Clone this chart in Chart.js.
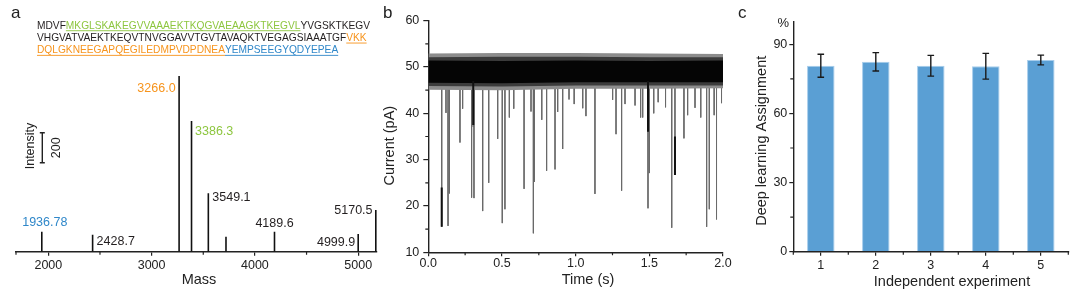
<!DOCTYPE html>
<html><head><meta charset="utf-8">
<script src="https://cdn.jsdelivr.net/npm/chart.js@4.4.1/dist/chart.umd.min.js"></script>
<style>
html,body{margin:0;padding:0;background:#fff;}
body{width:1080px;height:294px;position:relative;overflow:hidden;}
canvas{position:absolute;top:0;}
#ca{left:0;} #cb{left:370px;} #cc{left:730px;}
</style></head><body>
<canvas id="ca" width="385" height="294"></canvas>
<canvas id="cb" width="380" height="294"></canvas>
<canvas id="cc" width="350" height="294"></canvas>
<script>
// ---------- Panel a data ----------
const seqLine1 = [["MDVF","k",0],["MKGLSKAKEGVVAAAEKTKQGVAEAAGKTKEGVL","g",1],["YVGSKTKEGV","k",0]];
const seqLine2 = [["VHGVATVAEKTKEQVTNVGGAVVTGVTAVAQKTVEGAGSIAAATGF","k",0],["VKK","o",1]];
const seqLine3 = [["DQLGKNEEGAPQEGILEDMPVDPDNEA","o",1],["YEMPSEEGYQDYEPEA","b",1]];
const peakMass = [1936.78, 2428.7, 3266.0, 3386.3, 3549.1, 3720, 4189.6, 4999.9, 5170.5];
const peakIntensity = [133, 113, 1171, 871, 389, 100, 133, 118, 278];
const peakLabels = ["1936.78","2428.7","3266.0","3386.3","3549.1","","4189.6","4999.9","5170.5"];
const massTicks = [2000, 3000, 4000, 5000];
const intensityBar = 200;
// ---------- Panel b data ----------
const bandTime = [0, 0.5, 1.0, 1.5, 2.0];
const outerHigh = [52.9, 53.0, 53.0, 52.9, 52.8];
const innerHigh = [52.1, 52.2, 52.2, 52.1, 52.1];
const coreHigh  = [51.4, 51.3, 51.4, 51.3, 51.4];
const coreLow   = [46.6, 46.5, 46.7, 46.7, 46.7];
const innerLow  = [45.9, 45.8, 46.0, 46.0, 46.0];
const outerLow  = [45.1, 45.0, 45.3, 45.3, 45.4];
const spikeTime  = [0.091,0.120,0.134,0.143,0.215,0.233,0.294,0.305,0.310,0.369,0.410,0.471,0.502,0.520,0.550,0.580,0.650,0.697,0.713,0.720,0.770,0.803,0.860,0.878,0.912,0.955,0.990,1.048,1.070,1.131,1.251,1.274,1.312,1.335,1.403,1.441,1.455,1.491,1.500,1.530,1.560,1.610,1.652,1.674,1.735,1.760,1.810,1.849,1.889,1.907,1.940,1.956,1.990];
const spikeDepth = [15.5,40.1,15.7,22.7,33.7,41.0,21.8,37.1,21.7,18.9,25.0,34.5,16.3,19.3,39.1,41.0,23.7,40.4,14.1,25.2,38.6,27.6,27.9,40.3,32.3,43.0,42.0,41.1,39.4,22.6,42.9,35.5,23.3,42.0,41.7,39.1,39.1,19.5,27.1,40.0,42.4,41.3,15.3,26.7,34.6,39.6,41.2,39.1,15.5,19.3,39.6,17.1,42.2];
const spikeStart = 47;
const darkTime = [0.091, 0.305, 1.491, 1.674];
const darkTop  = [24.0, 47.0, 47.0, 35.0];
const darkBottom = [15.5, 37.5, 36.0, 26.7];
// ---------- Panel c data ----------
const experiments = ["1","2","3","4","5"];
const assignMean = [80.7, 82.4, 80.7, 80.5, 83.2];
const assignErr  = [5.0, 4.0, 4.5, 5.6, 2.1];

// ---------- helpers ----------
const FONT = "'Liberation Sans', Arial, Helvetica, sans-serif";
Chart.defaults.font.family = FONT;
Chart.defaults.color = '#222';
const INK = '#222';
const COL = {k:'#231f20', g:'#8dc63f', o:'#f7941d', b:'#2f87c9'};

function txt(ctx, s, x, y, o) {
  o = o || {};
  ctx.save();
  ctx.font = (o.weight||'') + ' ' + (o.size||12.5) + 'px ' + FONT;
  ctx.fillStyle = o.color || INK;
  ctx.textAlign = o.align || 'center';
  ctx.textBaseline = 'middle';
  ctx.translate(x, y);
  if (o.rot) ctx.rotate(o.rot);
  ctx.fillText(s, 0, 0);
  ctx.restore();
}
function minorTicks(ctx, scale, values, len) {
  ctx.save(); ctx.strokeStyle = INK; ctx.lineWidth = 1.2; ctx.beginPath();
  values.forEach(v => {
    if (scale.isHorizontal()) { const x = scale.getPixelForValue(v); ctx.moveTo(x, scale.top); ctx.lineTo(x, scale.top + len); }
    else { const y = scale.getPixelForValue(v); ctx.moveTo(scale.right, y); ctx.lineTo(scale.right - len, y); }
  });
  ctx.stroke(); ctx.restore();
}
function mids(scale) {
  const t = scale.ticks.map(k => k.value), out = [];
  for (let i = 0; i < t.length - 1; i++) out.push((t[i] + t[i+1]) / 2);
  return out;
}
function seq(ctx, parts, x, y, size) {
  ctx.save(); ctx.font = size + 'px ' + FONT; ctx.textBaseline = 'middle'; ctx.textAlign = 'left';
  parts.forEach(p => {
    const w = ctx.measureText(p[0]).width;
    ctx.fillStyle = COL[p[1]]; ctx.fillText(p[0], x, y);
    if (p[2]) { ctx.fillRect(x, y + size*0.42, w, 0.9); }
    x += w;
  });
  ctx.restore();
}

// ---------- Panel a ----------
const labelPlace = [
  {dx:3, dy:-9.5, align:'center', c:'b'},
  {dx:4, dy:6.5, align:'left', c:'k'},
  {dx:-3.5, dy:12, align:'right', c:'o'},
  {dx:3.5, dy:10, align:'left', c:'g'},
  {dx:4, dy:4.5, align:'left', c:'k'},
  {dx:0, dy:0, align:'left', c:'k'},
  {dx:0, dy:-8, align:'center', c:'k'},
  {dx:-3, dy:8.5, align:'right', c:'k'},
  {dx:-3.3, dy:0.5, align:'right', c:'k'}
];
const decorA = {id:'decorA', afterDraw(chart) {
  const ctx = chart.ctx, xs = chart.scales.x, ys = chart.scales.y;
  txt(ctx, 'a', 11, 13, {size:17, align:'left'});
  seq(ctx, seqLine1, 37, 26, 10.2);
  seq(ctx, seqLine2, 37, 38.3, 10.2);
  seq(ctx, seqLine3, 37, 50.6, 10.2);
  peakMass.forEach((m, i) => {
    if (!peakLabels[i]) return;
    const p = labelPlace[i];
    txt(ctx, peakLabels[i], xs.getPixelForValue(m) + p.dx, ys.getPixelForValue(peakIntensity[i]) + p.dy,
        {size:12.5, align:p.align, color:COL[p.c]});
  });
  // intensity scale bar
  const h = ys.getPixelForValue(0) - ys.getPixelForValue(intensityBar);
  const bx = 42.3, yb = 162.7;
  ctx.save(); ctx.strokeStyle = INK; ctx.lineWidth = 1.4; ctx.beginPath();
  ctx.moveTo(bx, yb); ctx.lineTo(bx, yb - h);
  ctx.moveTo(bx - 2.5, yb); ctx.lineTo(bx + 2.5, yb);
  ctx.moveTo(bx - 2.5, yb - h); ctx.lineTo(bx + 2.5, yb - h);
  ctx.stroke(); ctx.restore();
  txt(ctx, 'Intensity', 31, 146, {size:12.5, rot:-Math.PI/2});
  txt(ctx, String(intensityBar), 56.5, 147.7, {size:12.5, rot:-Math.PI/2});
  txt(ctx, 'Mass', 199, 280, {size:14.5});
  minorTicks(ctx, xs, [xs.min, 2500, 3500, 4500], 3);
}};
const peakPts = [];
peakMass.forEach((m, i) => { peakPts.push({x: m, y: 0}, {x: m, y: peakIntensity[i]}, {x: m, y: null}); });
new Chart(document.getElementById('ca'), {
  type: 'line',
  data: {datasets: [{data: peakPts, borderColor: '#111', borderWidth: 1.6, pointRadius: 0, spanGaps: false, fill: false}]},
  options: {
    responsive: false, animation: false,
    layout: {padding: {left: 16, right: 8, top: 71.7, bottom: 0}},
    plugins: {legend: {display: false}, tooltip: {enabled: false}},
    scales: {
      x: {type: 'linear', min: 1687, max: 5182,
          afterBuildTicks: s => { s.ticks = massTicks.map(v => ({value: v})); },
          ticks: {autoSkip: false, maxRotation: 0, font: {size: 12.5}, color: INK, padding: 2.5,
                  callback: v => String(v)},
          grid: {display: true, drawOnChartArea: false, tickLength: 4, color: INK, lineWidth: 1.2},
          border: {display: true, color: INK, width: 1.4},
          afterFit: s => { s.height = 42.3; }},
      y: {display: false, min: 0, max: 1200}
    }
  },
  plugins: [decorA]
});

// ---------- Panel b ----------
const bandSet = (arr, color, fill, order) => ({
  data: bandTime.map((t, i) => ({x: t, y: arr[i]})), borderWidth: 0, pointRadius: 0,
  backgroundColor: color, fill: fill, order: order, tension: 0
});
const spikePts = [];
spikeTime.forEach((t, i) => { spikePts.push({x: t, y: spikeStart}, {x: t, y: spikeDepth[i]}, {x: t, y: null}); });
const darkPts = [];
darkTime.forEach((t, i) => { darkPts.push({x: t, y: darkTop[i]}, {x: t, y: darkBottom[i]}, {x: t, y: null}); });
const decorB = {id:'decorB', afterDraw(chart) {
  const ctx = chart.ctx, xs = chart.scales.x, ys = chart.scales.y;
  txt(ctx, 'b', 13, 13.3, {size:17, align:'left'});
  txt(ctx, 'Current (pA)', 20, 145.7, {size:14.5, rot:-Math.PI/2});
  txt(ctx, 'Time (s)', 218, 280, {size:14.5});
  minorTicks(ctx, xs, mids(xs), 3);
  minorTicks(ctx, ys, mids(ys), 3);
}};
new Chart(document.getElementById('cb'), {
  type: 'line',
  data: {datasets: [
    bandSet(coreHigh, '#050505', '+1', 1),
    bandSet(coreLow, 'rgba(0,0,0,0)', false, 1),
    bandSet(innerHigh, '#3c3c3c', '+1', 2),
    bandSet(innerLow, 'rgba(0,0,0,0)', false, 2),
    bandSet(outerHigh, '#8c8c8c', '+1', 3),
    bandSet(outerLow, 'rgba(0,0,0,0)', false, 3),
    {data: spikePts, borderColor: '#6a6a6a', borderWidth: 1, pointRadius: 0, spanGaps: false, fill: false, order: 4},
    {data: darkPts, borderColor: '#111', borderWidth: 2, pointRadius: 0, spanGaps: false, fill: false, order: 0}
  ]},
  options: {
    responsive: false, animation: false,
    layout: {padding: {left: 0, right: 27, top: 20.7, bottom: 0}},
    plugins: {legend: {display: false}, tooltip: {enabled: false}},
    scales: {
      x: {type: 'linear', min: 0, max: 2,
          ticks: {stepSize: 0.5, autoSkip: false, maxRotation: 0, font: {size: 12.5}, color: INK, padding: 0,
                  callback: v => v.toFixed(1)},
          grid: {display: true, drawOnChartArea: false, tickLength: 4, color: INK, lineWidth: 1.2},
          border: {display: true, color: INK, width: 1.4},
          afterFit: s => { s.height = 41.7; }},
      y: {type: 'linear', min: 10, max: 60,
          ticks: {stepSize: 10, font: {size: 12.5}, color: INK, padding: 4},
          grid: {display: true, drawOnChartArea: false, tickLength: 5, color: INK, lineWidth: 1.2},
          border: {display: true, color: INK, width: 1.4},
          afterFit: s => { s.width = 58.3; }}
    }
  },
  plugins: [decorB]
});

// ---------- Panel c ----------
const decorC = {id:'decorC', afterDatasetsDraw(chart) {
  const ctx = chart.ctx, ys = chart.scales.y, meta = chart.getDatasetMeta(0);
  ctx.save(); ctx.strokeStyle = '#1a1a1a'; ctx.lineWidth = 1.4; ctx.beginPath();
  meta.data.forEach((bar, i) => {
    const x = bar.x, t = ys.getPixelForValue(assignMean[i] + assignErr[i]), b = ys.getPixelForValue(assignMean[i] - assignErr[i]);
    ctx.moveTo(x, t); ctx.lineTo(x, b);
    ctx.moveTo(x - 3.3, t); ctx.lineTo(x + 3.3, t);
    ctx.moveTo(x - 3.3, b); ctx.lineTo(x + 3.3, b);
  });
  ctx.stroke(); ctx.restore();
}, afterDraw(chart) {
  const ctx = chart.ctx, xs = chart.scales.x, ys = chart.scales.y;
  txt(ctx, 'c', 8, 13.3, {size:17, align:'left'});
  txt(ctx, '%', 53.3, 23, {size:13});
  txt(ctx, 'Deep learning Assignment', 31.7, 140.8, {size:14.5, rot:-Math.PI/2});
  txt(ctx, 'Independent experiment', 222, 281.7, {size:14.5});
  minorTicks(ctx, xs, mids(xs).concat([-0.5, experiments.length - 0.5]), 3);
  minorTicks(ctx, ys, mids(ys), 3);
}};
new Chart(document.getElementById('cc'), {
  type: 'bar',
  data: {labels: experiments, datasets: [{data: assignMean, backgroundColor: '#5a9fd4', borderColor: '#a7cdec', borderWidth: 1,
          categoryPercentage: 1, barPercentage: 0.5}]},
  options: {
    responsive: false, animation: false,
    layout: {padding: {left: 0, right: 11.7, top: 21.3, bottom: 0}},
    plugins: {legend: {display: false}, tooltip: {enabled: false}},
    scales: {
      x: {ticks: {font: {size: 12.5}, color: INK, padding: 2.5, maxRotation: 0},
          grid: {display: true, offset: false, drawOnChartArea: false, tickLength: 4, color: INK, lineWidth: 1.2},
          border: {display: true, color: INK, width: 1.4},
          afterFit: s => { s.height = 42.3; }},
      y: {min: 0, max: 100,
          ticks: {stepSize: 30, includeBounds: false, font: {size: 12.5}, color: INK, padding: 2},
          grid: {display: true, drawOnChartArea: false, tickLength: 4, color: INK, lineWidth: 1.2},
          border: {display: true, color: INK, width: 1.4},
          afterFit: s => { s.width = 63.3; }}
    }
  },
  plugins: [decorC]
});
</script>
</body></html>
